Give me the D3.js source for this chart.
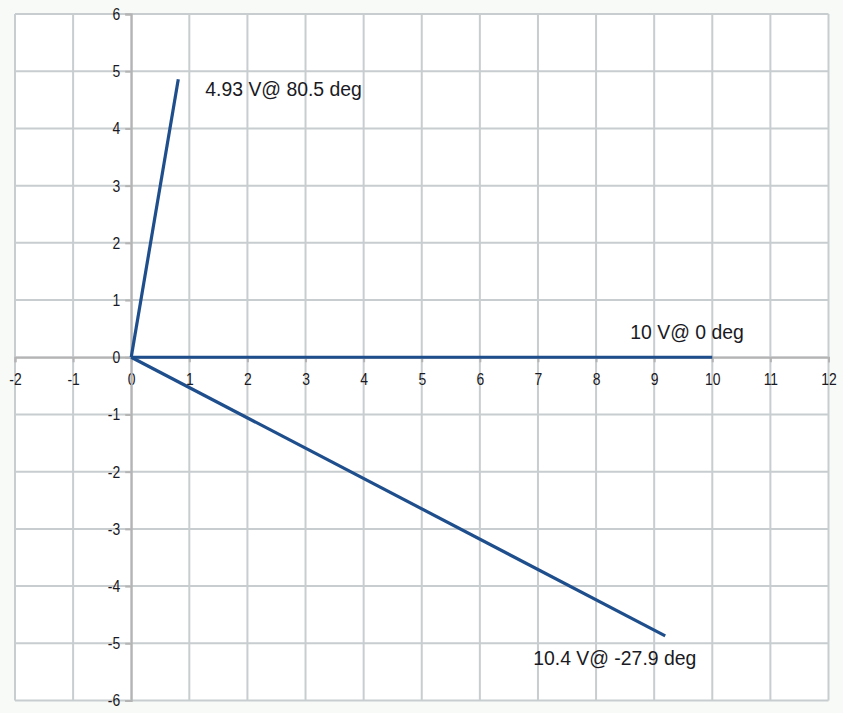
<!DOCTYPE html>
<html><head><meta charset="utf-8">
<script src="https://cdn.jsdelivr.net/npm/d3@7"></script>
<style>body{margin:0;background:#f8faf8;}svg{display:block;font-family:"Liberation Sans",Arial,sans-serif;}</style>
</head><body>
<script>
const xTicks = [-2,-1,0,1,2,3,4,5,6,7,8,9,10,11,12];
const yTicks = [-6,-5,-4,-3,-2,-1,0,1,2,3,4,5,6];
const vectorNames = ["4.93 V@ 80.5 deg","10 V@ 0 deg","10.4 V@ -27.9 deg"];
const vectorX = [0.81, 10, 9.19];
const vectorY = [4.86, 0, -4.87];

const W=843,H=713;
const svg=d3.select("body").append("svg").attr("width",W).attr("height",H);
const x=d3.scaleLinear().domain([-2,12]).range([15,828.5]);
const y=d3.scaleLinear().domain([-6,6]).range([700.5,14]);

svg.append("rect").attr("x",15).attr("y",14).attr("width",813.5).attr("height",686.5).attr("fill","#ffffff");

const grid=svg.append("g").attr("stroke","#c8cdcf").attr("stroke-width",2);
grid.selectAll(".gx").data(xTicks).join("line").attr("x1",d=>x(d)).attr("x2",d=>x(d)).attr("y1",y(6)).attr("y2",y(-6));
grid.selectAll(".gy").data(yTicks).join("line").attr("y1",d=>y(d)).attr("y2",d=>y(d)).attr("x1",x(-2)).attr("x2",x(12));

// axes through origin
const fmt=d=>String(d);
const xAxis=d3.axisBottom(x).tickValues(xTicks).tickSize(5).tickPadding(11).tickFormat(fmt);
const yAxis=d3.axisLeft(y).tickValues(yTicks).tickSize(6).tickPadding(5).tickFormat(fmt);
const gx=svg.append("g").attr("transform",`translate(0,${y(0)})`).call(xAxis);
const gy=svg.append("g").attr("transform",`translate(${x(0)},0)`).call(yAxis);
[gx,gy].forEach(g=>{
  g.select(".domain").attr("stroke","#b4b4b4").attr("stroke-width",2);
  g.selectAll(".tick line").attr("stroke","#b4b4b4").attr("stroke-width",2);
  g.selectAll(".tick text").attr("fill","#1a1a24").attr("font-size",17)
    .attr("font-family","'Liberation Sans', Arial, sans-serif");
});
// condense tick labels horizontally (narrow face)
gx.selectAll(".tick text").attr("transform","scale(0.82,1)");
gy.selectAll(".tick text").attr("x",-11/0.82).attr("transform","scale(0.82,1)");

const labelOffsets=[[27,17],[-82,-18],[-132,29]];
const vecs=vectorNames.map((n,i)=>({name:n,x:vectorX[i],y:vectorY[i],off:labelOffsets[i]}));
svg.append("g").selectAll("line").data(vecs).join("line")
  .attr("x1",x(0)).attr("y1",y(0)).attr("x2",d=>x(d.x)).attr("y2",d=>y(d.y))
  .attr("stroke","#1f4e8c").attr("stroke-width",3.2).attr("stroke-linecap","butt");
svg.append("g").selectAll("text").data(vecs).join("text")
  .attr("x",d=>x(d.x)+d.off[0]).attr("y",d=>y(d.y)+d.off[1])
  .attr("font-size",19.4).attr("fill","#1a1a24").text(d=>d.name);
</script>
</body></html>
